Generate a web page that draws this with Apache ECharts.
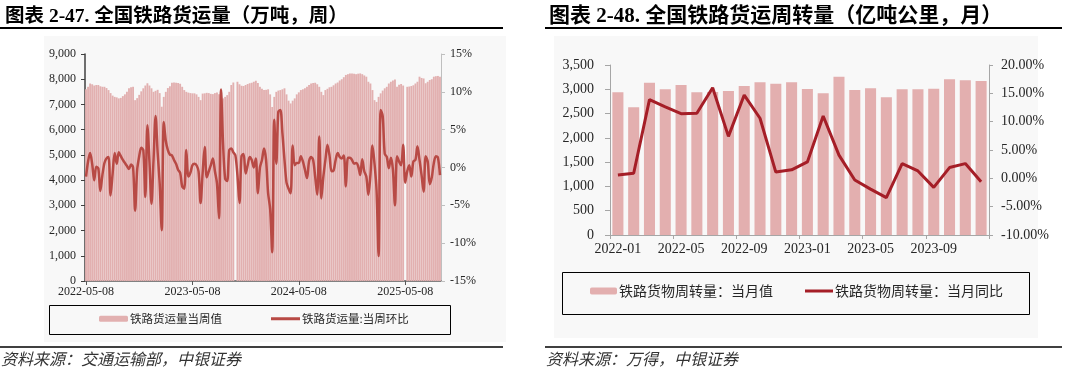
<!DOCTYPE html>
<html>
<head>
<meta charset="utf-8">
<script src="https://cdn.jsdelivr.net/npm/echarts@6/dist/echarts.min.js"></script>
<style>
html,body{margin:0;padding:0;background:#fff;}
#c{width:1080px;height:374px;}
</style>
</head>
<body>
<div id="c"></div>
<script>
// ---------- Left chart: weekly railway freight volume ----------
const weekStart = '2022-05-08';
const weekCount = 174;
const weekTickLabels = ['2022-05-08', '2023-05-08', '2024-05-08', '2025-05-08'];
const weeklyVolume = [
  7600, 7700, 7830, 7800, 7750, 7770, 7770, 7720, 7700, 7700,
  7650, 7570, 7450, 7350, 7300, 7280, 7240, 7260, 7330, 7400,
  7500, 7640, 7680, 7700, 7170, 7250, 7380, 7520, 7640, 7750,
  7840, 7750, 7640, 7500, 7540, 7580, 7450, 6910, 7300, 7500,
  7650, 7720, 7860, 7870, 7860, 7850, 7820, 7700, 7570, 7500,
  7470, 7450, 7440, 7440, 7400, 7300, 7170, 7430, 7440, 7460,
  7450, 7420, 7410, 7450, 7470, 7400, 7300, 7240, 7300, 7370,
  7500, 7770, 7870, null, 7900, 7800, 7740, 7730, 7770, 7810,
  7840, 7860, 7900, 7940, 7850, 7700, 7620, 7570, 7580, 7600,
  7400, 6900, 7300, 7500, 7550, 7570, 7600, 7640, 7400, 7150,
  7040, 7150, 7240, 7400, 7480, 7570, 7600, 7640, 7700, 7770,
  7830, 7850, 7860, 7800, 7700, 7500, 7370, 7570, 7620, 7680,
  7700, 7760, 7830, 7870, 7950, 8000, 8080, 8170, 8200, 8230,
  8230, 8220, 8200, 8220, 8230, 8200, 8150, 8100, 7900, 7830,
  7570, 7170, 7100, 7300, 7440, 7550, 7640, 7700, 7830, 7900,
  7950, 7990, 7700, 7780, 7810, 7750, null, 7700, 7710, 7730,
  7760, 7830, 7900, 8100, 8050, 8030, 7840, 7900, 7970, 8000,
  8100, 8120, 8130, 8100
];
const weeklyWoW = [
  -1.2, 0.8, 1.9, 0.5, -1.7, 0.1, -0.1, -3.1, -1.0, 0.6,
  1.2, 1.4, -3.7, -0.8, 1.9, 0.5, 2.0, 1.5, 1.0, 0.6,
  0.2, -0.2, 0.4, 0.0, -5.7, -0.3, 1.5, 2.6, 2.3, -3.9,
  5.6, 0.8, -4.8, 1.0, 6.8, 2.0, -2.1, -8.3, 6.0, 3.5,
  2.3, 1.7, 1.6, 1.0, 0.5, -0.3, -0.7, -2.5, -2.8, 2.3,
  -1.2, -0.7, 0.3, 0.5, 0.3, -0.5, -4.7, -0.7, 2.7, -1.3,
  -0.5, 0.3, 1.2, -0.5, -2.1, -6.7, 10.3, 3.0, -1.5, -1.8,
  2.3, 2.5, 2.0, 1.6, -1.0, -4.7, 1.5, 1.8, -0.8, 0.3,
  1.4, 1.0, 0.0, 1.2, -3.4, 0.0, 1.0, 2.5, 1.0, -3.4,
  -5.5, -11.2, 6.3, 0.5, 7.4, 7.6, 4.5, 1.0, -2.0, -2.8,
  -3.4, 2.9, 0.3, 0.6, 0.6, 1.5, 0.8, -0.3, -1.4, 0.8,
  1.4, 1.0, -1.2, -3.6, 4.1, -4.1, -1.2, 1.0, 3.0, 1.6,
  -0.5, -0.4, 1.0, 1.9, 1.4, 1.2, 1.6, -2.5, 1.3, 1.3,
  1.0, 0.5, 0.6, 0.2, -1.0, 1.1, -0.5, -1.2, -3.6, -1.0,
  2.9, 0.5, -3.0, -11.7, 7.6, 6.8, 1.8, 1.4, -0.1, 1.3,
  -0.3, -5.0, 1.5, 0.8, 0.3, 3.0, -2.0, -0.5, 0.3, -1.2,
  0.8, 1.0, 2.8, 1.0, -1.0, -3.2, 1.5, 0.8, -2.2, -1.3,
  0.6, 1.5, 1.3, -1.0
];

// ---------- Right chart: monthly railway freight turnover ----------
const months = ['2022-01','2022-02','2022-03','2022-04','2022-05','2022-06','2022-07','2022-08','2022-09','2022-10','2022-11','2022-12',
                '2023-01','2023-02','2023-03','2023-04','2023-05','2023-06','2023-07','2023-08','2023-09','2023-10','2023-11','2023-12'];
const monthlyTurnover = [2937, 2628, 3136, 2999, 3088, 2937, 2944, 2965, 3068, 3143, 3116, 3143,
                         3006, 2917, 3260, 2985, 3020, 2834, 2999, 2999, 3013, 3205, 3184, 3171];
const monthlyYoY = [0.6, 0.9, 13.9, 12.6, 11.4, 11.5, 16.0, 7.4, 14.7, 10.6, 1.1, 1.5,
                    2.9, 11.0, 4.1, -0.3, -1.9, -3.4, 2.6, 1.3, -1.6, 1.9, 2.6, -0.6];

// week categories
const weekCats = [];
{
  const d0 = new Date(weekStart + 'T00:00:00Z');
  for (let i = 0; i < weekCount; i++) {
    const d = new Date(d0.getTime() + i * 7 * 86400000);
    weekCats.push(d.toISOString().slice(0, 10));
  }
}

const SERIF = '"Liberation Serif", "Times New Roman", "Noto Sans CJK SC", serif';
const CJK = '"Noto Sans CJK SC", sans-serif';
const TXT = '#262626';

const chart = echarts.init(document.getElementById('c'), null, {renderer: 'canvas'});

const option = {
  animation: false,
  backgroundColor: '#ffffff',
  title: [
    {text: '图表 2-47. 全国铁路货运量（万吨，周）', left: 0, top: 2,
     textStyle: {fontFamily: SERIF, fontWeight: 'bold', fontSize: 19.5, color: '#000'}},
    {text: '图表 2-48. 全国铁路货运周转量（亿吨公里，月）', left: 544, top: 1,
     textStyle: {fontFamily: SERIF, fontWeight: 'bold', fontSize: 21, color: '#000'}}
  ],
  graphic: [
    {type: 'rect', z: -10, shape: {x: 44, y: 36, width: 462, height: 306}, style: {fill: '#f8f8f8'}},
    {type: 'rect', z: -10, shape: {x: 554, y: 36, width: 484, height: 302}, style: {fill: '#f8f8f8'}},
    {type: 'line', shape: {x1: 0, y1: 28, x2: 503, y2: 28}, style: {stroke: '#000', lineWidth: 2}},
    {type: 'line', shape: {x1: 545, y1: 28, x2: 1062, y2: 28}, style: {stroke: '#000', lineWidth: 2}},
    {type: 'line', shape: {x1: 0, y1: 347, x2: 503, y2: 347}, style: {stroke: '#000', lineWidth: 1.5}},
    {type: 'line', shape: {x1: 545, y1: 347, x2: 1062, y2: 347}, style: {stroke: '#000', lineWidth: 1.5}},
    {type: 'rect', shape: {x: 49.5, y: 305.5, width: 401, height: 29}, style: {fill: 'none', stroke: '#000', lineWidth: 1}},
    {type: 'rect', shape: {x: 562.5, y: 272.5, width: 467, height: 42}, style: {fill: 'none', stroke: '#000', lineWidth: 1}},
    {type: 'text', x: 1, y: 359, style: {text: '资料来源：交通运输部，中银证券', font: 'italic 16px ' + CJK, fill: '#333', verticalAlign: 'middle'}},
    {type: 'text', x: 546, y: 359, style: {text: '资料来源：万得，中银证券', font: 'italic 16px ' + CJK, fill: '#333', verticalAlign: 'middle'}}
  ],
  legend: [
    {data: ['铁路货运量当周值'], left: 99, top: 313, itemWidth: 29, itemHeight: 6, padding: 0,
     textStyle: {fontFamily: CJK, fontSize: 11.5, color: TXT, padding: [0, 0, 0, -3]}},
    {data: [{name: '铁路货运量:当周环比', icon: 'rect'}], left: 271, top: 313, itemWidth: 29, itemHeight: 3, padding: 0,
     textStyle: {fontFamily: CJK, fontSize: 11.5, color: TXT, padding: [0, 0, 0, -3]}},
    {data: ['铁路货物周转量：当月值'], left: 590, top: 284, itemWidth: 27, itemHeight: 7, padding: 0,
     textStyle: {fontFamily: CJK, fontSize: 14, color: TXT, padding: [0, 0, 0, -3]}},
    {data: [{name: '铁路货物周转量：当月同比', icon: 'rect'}], left: 805, top: 284, itemWidth: 28, itemHeight: 3, padding: 0,
     textStyle: {fontFamily: CJK, fontSize: 14, color: TXT, padding: [0, 0, 0, -3]}}
  ],
  grid: [
    {left: 85, top: 54, width: 356, height: 227, containLabel: false},
    {left: 610, top: 65, width: 379, height: 170, containLabel: false}
  ],
  xAxis: [
    {type: 'category', gridIndex: 0, data: weekCats, boundaryGap: true,
     axisLine: {lineStyle: {color: '#595959', width: 1.5}},
     axisTick: {show: true, alignWithLabel: true, length: 4, interval: (i) => i % 52 === 0, lineStyle: {color: '#595959'}},
     axisLabel: {interval: (i) => i % 52 === 0, formatter: (v, i) => weekTickLabels[Math.round(i / 52)] || '',
                 fontFamily: SERIF, fontSize: 12, color: TXT, margin: 5}},
    {type: 'category', gridIndex: 1, data: months, boundaryGap: true,
     axisLine: {lineStyle: {color: '#a6a6a6', width: 1}},
     axisTick: {show: true, alignWithLabel: false, length: 4, interval: 3, lineStyle: {color: '#a6a6a6'}},
     axisLabel: {interval: 3, fontFamily: SERIF, fontSize: 14, color: TXT, margin: 7}}
  ],
  yAxis: [
    {type: 'value', gridIndex: 0, min: 0, max: 9000, interval: 1000, position: 'left',
     splitLine: {show: false},
     axisLine: {show: true, lineStyle: {color: '#404040', width: 1.5}},
     axisTick: {show: true, length: 4, lineStyle: {color: '#404040'}},
     axisLabel: {formatter: (v) => v.toLocaleString('en-US'), fontFamily: SERIF, fontSize: 12, color: TXT, margin: 9}},
    {type: 'value', gridIndex: 0, min: -15, max: 15, interval: 5, position: 'right',
     splitLine: {show: false},
     axisLine: {show: true, lineStyle: {color: '#bfbfbf', width: 1}},
     axisTick: {show: true, length: 4, lineStyle: {color: '#bfbfbf'}},
     axisLabel: {formatter: '{value}%', fontFamily: SERIF, fontSize: 12, color: TXT, margin: 9}},
    {type: 'value', gridIndex: 1, min: 0, max: 3500, interval: 500, position: 'left',
     splitLine: {show: false},
     axisLine: {show: true, lineStyle: {color: '#a6a6a6', width: 1}},
     axisTick: {show: true, length: 5, lineStyle: {color: '#a6a6a6'}},
     axisLabel: {formatter: (v) => v.toLocaleString('en-US'), fontFamily: SERIF, fontSize: 14, color: TXT, margin: 16}},
    {type: 'value', gridIndex: 1, min: -10, max: 20, interval: 5, position: 'right',
     splitLine: {show: false},
     axisLine: {show: true, lineStyle: {color: '#a6a6a6', width: 1}},
     axisTick: {show: true, length: 4, lineStyle: {color: '#a6a6a6'}},
     axisLabel: {formatter: (v) => v.toFixed(2) + '%', fontFamily: SERIF, fontSize: 14, color: TXT, margin: 12}}
  ],
  series: [
    {name: '铁路货运量当周值', type: 'bar', xAxisIndex: 0, yAxisIndex: 0, data: weeklyVolume,
     barCategoryGap: '8%', itemStyle: {color: '#E2B0B0'}},
    {name: '铁路货运量:当周环比', type: 'line', xAxisIndex: 0, yAxisIndex: 1, data: weeklyWoW,
     symbol: 'none', smooth: 0.3, z: 5, connectNulls: true,
     itemStyle: {color: '#B84A45'}, lineStyle: {color: '#B84A45', width: 2.5}},
    {name: '铁路货物周转量：当月值', type: 'bar', xAxisIndex: 1, yAxisIndex: 2, data: monthlyTurnover,
     barCategoryGap: '30%', itemStyle: {color: '#E3AFAF'}},
    {name: '铁路货物周转量：当月同比', type: 'line', xAxisIndex: 1, yAxisIndex: 3, data: monthlyYoY,
     symbol: 'none', z: 5,
     itemStyle: {color: '#A51E27'}, lineStyle: {color: '#A51E27', width: 3}}
  ]
};
chart.setOption(option);
</script>
</body>
</html>
